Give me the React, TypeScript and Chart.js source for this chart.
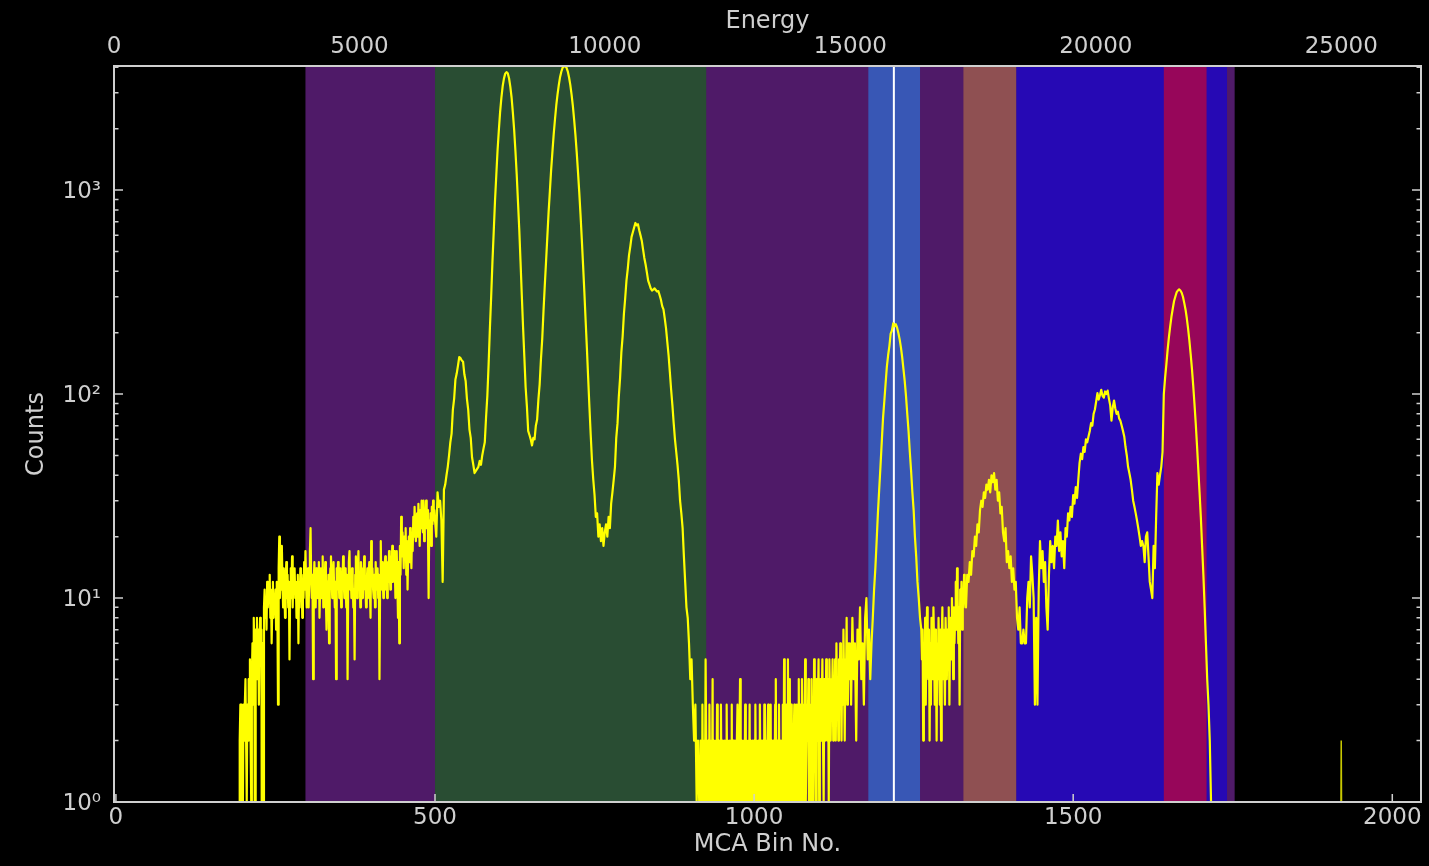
import React, { useEffect, useRef } from "react";
import { Chart, registerables } from "chart.js";

Chart.register(...registerables);

// ---------- axes ----------
const BIN_MIN = -3;
const BIN_MAX = 2045;
const ENERGY_PER_BIN = 13;
const ENERGY_MIN = 0;
const ENERGY_MAX = 2048 * ENERGY_PER_BIN;
const COUNT_MIN = 1;
const COUNT_MAX = 4060;
const ZERO_FLOOR = 0.1; // zero counts are drawn below the log axis (clipped), like matplotlib
const binTicks = [0, 500, 1000, 1500, 2000];
const energyTicks = [0, 5000, 10000, 15000, 20000, 25000];
const countDecades = [1, 10, 100, 1000];
const countDecadeLabels = ["10\u2070", "10\u00B9", "10\u00B2", "10\u00B3"];
const minorMultipliers = [2, 3, 4, 5, 6, 7, 8, 9];

// ---------- regions of interest (MCA bins) ----------
const regionStart = [297, 500, 1179, 1328, 1411, 1642];
const regionEnd = [1753, 925, 1260, 1411, 1741, 1709];
const regionColor = ["#4f1a68", "#294d33", "#3857b5", "#8f5052", "#2609b4", "#97065a"];
const markerBin = 1219;

// ---------- spectrum counts ----------
// tail: bins 190..299, every bin
const tailCounts = [
  1, 1, 0, 1, 2, 3, 1, 3, 2, 1,
  3, 2, 3, 4, 2, 1, 3, 2, 4, 3,
  5, 2, 1, 4, 6, 3, 8, 5, 0, 7,
  6, 8, 4, 7, 3, 6, 8, 5, 7, 0,
  6, 0, 9, 11, 8, 10, 7, 12, 9, 11,
  10, 13, 8, 11, 6, 9, 12, 8, 10, 9,
  11, 7, 12, 9, 3, 14, 20, 10, 13, 11,
  18, 12, 9, 14, 11, 8, 12, 15, 10, 13,
  9, 12, 5, 11, 14, 10, 16, 9, 13, 11,
  14, 10, 12, 8, 11, 13, 6, 12, 9, 14,
  11, 13, 8, 12, 10, 15, 11, 17, 12, 9,
];

// plateau: bins 300..499, every bin
const plateauCounts = [
  11, 14, 9, 13, 17, 22, 12, 10, 13, 4,
  12, 15, 11, 9, 14, 12, 10, 13, 15, 8,
  11, 14, 10, 12, 16, 9, 13, 11, 15, 10,
  7, 12, 9, 13, 6, 11, 14, 16, 12, 10,
  13, 15, 11, 9, 12, 4, 14, 11, 15, 13,
  10, 12, 14, 9, 13, 11, 16, 12, 10, 14,
  11, 9, 13, 4, 12, 15, 17, 11, 13, 10,
  14, 12, 9, 11, 5, 13, 16, 12, 10, 14,
  17, 11, 13, 9, 15, 12, 10, 14, 11, 16,
  13, 11, 9, 12, 14, 10, 13, 15, 11, 8,
  19, 12, 14, 11, 10, 13, 9, 15, 12, 11,
  14, 10, 13, 4, 12, 19, 11, 15, 13, 10,
  12, 14, 16, 11, 13, 10, 15, 12, 17, 14,
  11, 16, 13, 18, 12, 15, 17, 14, 10, 13,
  17, 12, 8, 15, 6, 18, 13, 25, 16, 21,
  18, 14, 20, 16, 22, 13, 19, 11, 17, 20,
  15, 22, 18, 14, 21, 17, 25, 20, 28, 22,
  19, 24, 26, 20, 29, 23, 18, 27, 22, 30,
  25, 21, 30, 19, 26, 24, 30, 22, 27, 21,
  10, 24, 20, 26, 18, 28, 23, 30, 24, 27,
];

// peaks: bins 500..912, every 2nd bin
const peaksCounts = [
  24, 20, 33, 28, 30, 24, 12, 34, 36, 40,
  44, 50, 58, 64, 84, 95, 118, 126, 138, 152,
  150, 146, 144, 125, 116, 95, 84, 67, 61, 49,
  45, 41, 42, 43, 44, 47, 45, 50, 54, 58,
  77, 98, 140, 210, 300, 445, 625, 885, 1180, 1565,
  1960, 2410, 2830, 3230, 3520, 3725, 3790, 3740, 3535, 3215,
  2845, 2400, 1980, 1560, 1200, 880, 645, 447, 305, 212,
  152, 108, 87, 66, 63, 60, 56, 61, 60, 70,
  75, 94, 112, 148, 186, 255, 340, 447, 590, 780,
  990, 1260, 1545, 1880, 2225, 2600, 2945, 3280, 3590, 3815,
  3985, 4040, 4040, 3990, 3825, 3575, 3280, 2940, 2585, 2215,
  1870, 1540, 1235, 980, 760, 575, 430, 318, 230, 168,
  120, 86, 63, 47, 38, 32, 25, 26, 20, 23,
  19, 22, 18, 21, 23, 20, 25, 22, 29, 33,
  38, 44, 61, 72, 97, 120, 160, 192, 247, 295,
  360, 410, 480, 528, 590, 622, 655, 690, 672, 680,
  636, 600, 565, 512, 465, 432, 395, 360, 345, 330,
  322, 325, 330, 324, 318, 320, 305, 290, 270, 260,
  235, 210, 180, 155, 128, 105, 88, 72, 60, 52,
  45, 38, 30, 26, 22, 16, 12, 9, 8, 6,
  4, 5, 3, 2, 3, 1, 2,
];

// low: bins 914..1149, every bin
const lowCounts = [
  1, 0, 2, 1, 0, 3, 1, 2, 0, 1,
  5, 2, 0, 1, 2, 0, 3, 1, 0, 2,
  1, 4, 0, 2, 1, 0, 2, 1, 3, 0,
  2, 1, 0, 2, 3, 1, 0, 2, 1, 0,
  2, 1, 0, 3, 1, 2, 0, 1, 2, 0,
  1, 3, 0, 2, 1, 0, 2, 1, 0, 2,
  3, 1, 0, 2, 4, 1, 0, 2, 1, 0,
  2, 1, 3, 0, 2, 1, 0, 2, 1, 3,
  0, 2, 1, 0, 2, 1, 2, 0, 3, 1,
  2, 0, 1, 2, 0, 3, 1, 2, 0, 1,
  2, 0, 3, 1, 2, 0, 1, 2, 3, 0,
  2, 1, 3, 0, 2, 1, 2, 0, 1, 3,
  4, 1, 2, 0, 2, 3, 1, 2, 0, 1,
  2, 3, 1, 5, 0, 2, 1, 3, 2, 5,
  1, 2, 4, 0, 3, 1, 2, 0, 2, 3,
  1, 2, 0, 3, 1, 2, 4, 1, 2, 3,
  0, 4, 2, 1, 3, 2, 5, 1, 2, 3,
  2, 4, 1, 3, 2, 0, 4, 2, 3, 1,
  5, 2, 3, 1, 4, 2, 3, 5, 1, 2,
  4, 2, 3, 5, 2, 1, 4, 3, 2, 5,
  3, 2, 4, 1, 5, 3, 2, 4, 3, 5,
  2, 4, 3, 5, 2, 6, 3, 4, 2, 5,
  3, 6, 4, 2, 5, 3, 7, 4, 2, 5,
  4, 8, 3, 5, 6, 4,
];

// peak 5: bins 1150..1262, every 2nd bin
const peak5Counts = [
  6, 3, 8, 4, 6, 2, 7, 5, 9, 4,
  6, 3, 8, 10, 5, 7, 4, 6, 8, 11,
  14, 19, 26, 34, 44, 58, 76, 92, 112, 136,
  155, 172, 198, 205, 222, 215, 220, 212, 200, 186,
  170, 152, 133, 116, 98, 80, 66, 52, 42, 33,
  27, 20, 16, 12, 10, 8, 7,
];

// mid: bins 1263..1329, every bin
const midCounts = [
  5, 7, 2, 6, 4, 8, 3, 6, 9, 5,
  4, 7, 2, 6, 3, 8, 5, 4, 9, 6,
  3, 7, 5, 2, 6, 4, 8, 5, 3, 7,
  2, 6, 9, 4, 7, 5, 3, 8, 6, 4,
  7, 5, 9, 3, 6, 8, 5, 10, 7, 4,
  9, 6, 8, 12, 7, 14, 10, 6, 9, 3,
  11, 8, 12, 7, 10, 9, 13,
];

// peak 6: bins 1330..1428, every 2nd bin
const peak6Counts = [
  11, 9, 13, 12, 15, 13, 17, 16, 20, 18,
  23, 21, 27, 30, 28, 33, 31, 36, 34, 38,
  33, 40, 37, 41, 34, 38, 30, 33, 26, 28,
  21, 19, 22, 15, 17, 14, 16, 12, 14, 11,
  12, 8, 7, 9, 6, 6, 7, 6, 6, 10,
];

// peak 7: bins 1430..1640, every 2nd bin
const peak7Counts = [
  12, 9, 16, 13, 10, 3, 8, 3, 11, 19,
  14, 17, 12, 15, 9, 7, 13, 19, 15, 18,
  14, 20, 18, 24, 17, 21, 16, 19, 14, 22,
  20, 26, 24, 28, 25, 32, 29, 35, 31, 38,
  46, 51, 48, 55, 52, 60, 58, 62, 66, 72,
  70, 80, 84, 92, 101, 94, 99, 105, 98, 96,
  103, 100, 104, 95, 88, 74, 86, 93, 85, 80,
  82, 76, 74, 70, 66, 62, 55, 50, 44, 41,
  38, 34, 30, 28, 26, 24, 22, 20, 18, 19,
  18, 15, 20, 21, 16, 12, 11, 10, 18, 14,
  25, 41, 36, 40, 44, 52,
];

// peak 8: bins 1642..1718, every 2nd bin
const peak8Counts = [
  100, 120, 140, 165, 190, 215, 240, 262, 285, 300,
  315, 322, 326, 322, 314, 300, 280, 260, 236, 210,
  184, 158, 134, 111, 90, 72, 56, 43, 33, 25,
  18, 13, 9, 6, 4, 3, 2, 1, 0,
];

// isolated counts near bin 1920, every 2nd bin from 1906
const spikeCounts = [0, 1, 0, 0, 0, 0, 0, 2, 0, 0, 0, 1, 0, 0, 0, 1, 0];
const spikeStart = 1906;
const spikeStep = 2;

const segmentStarts = [190, 300, 500, 914, 1150, 1263, 1330, 1430, 1642];
const segmentSteps = [1, 1, 2, 1, 2, 1, 2, 2, 2];
const segmentCounts = [tailCounts, plateauCounts, peaksCounts, lowCounts, peak5Counts, midCounts, peak6Counts, peak7Counts, peak8Counts];

// ---------- style ----------
const FONT = "'DejaVu Sans', sans-serif";
const TEXT_COLOR = "#cfcfcf";
const FRAME_COLOR = "#cfcfcf";
const LINE_COLOR = "#ffff00";

function toPoints(start: number, step: number, counts: number[]) {
  return counts.map((c, i) => ({ x: start + i * step, y: c > 0 ? c : ZERO_FLOOR }));
}

const regionsPlugin = {
  id: "regions",
  beforeDatasetsDraw(chart: any) {
    const { ctx, chartArea } = chart;
    const { left, right, top, bottom } = chartArea;
    const xs = chart.scales.x;
    ctx.save();
    ctx.beginPath();
    ctx.rect(left, top, right - left, bottom - top);
    ctx.clip();
    regionStart.forEach((s, i) => {
      const x0 = xs.getPixelForValue(s);
      const x1 = xs.getPixelForValue(regionEnd[i]);
      ctx.fillStyle = regionColor[i];
      ctx.fillRect(x0, top, x1 - x0, bottom - top);
    });
    const xm = xs.getPixelForValue(markerBin);
    ctx.strokeStyle = "#ffffff";
    ctx.lineWidth = 2;
    ctx.beginPath();
    ctx.moveTo(xm, top);
    ctx.lineTo(xm, bottom);
    ctx.stroke();
    ctx.restore();
  },
};

const framePlugin = {
  id: "frame",
  afterDraw(chart: any) {
    const { ctx, chartArea } = chart;
    const { left, right, top, bottom } = chartArea;
    const xs = chart.scales.x;
    const ys = chart.scales.y;
    ctx.save();
    ctx.strokeStyle = FRAME_COLOR;
    ctx.lineWidth = 1.5;
    ctx.beginPath();
    countDecades.forEach((d) => {
      const py = ys.getPixelForValue(d);
      ctx.moveTo(left, py);
      ctx.lineTo(left + 9, py);
      ctx.moveTo(right, py);
      ctx.lineTo(right - 9, py);
      minorMultipliers.forEach((m) => {
        const v = d * m;
        if (v > COUNT_MAX) return;
        const pm = ys.getPixelForValue(v);
        ctx.moveTo(left, pm);
        ctx.lineTo(left + 4.5, pm);
        ctx.moveTo(right, pm);
        ctx.lineTo(right - 4.5, pm);
      });
    });
    binTicks.forEach((b) => {
      const px = xs.getPixelForValue(b);
      ctx.moveTo(px, bottom);
      ctx.lineTo(px, bottom - 8);
    });
    ctx.stroke();
    ctx.lineWidth = 2;
    ctx.strokeRect(left, top, right - left, bottom - top);
    ctx.restore();
  },
};

export default function App() {
  const ref = useRef<HTMLCanvasElement>(null);

  useEffect(() => {
    const canvas = ref.current;
    if (!canvas) return;
    const mainPoints = segmentStarts.flatMap((s, k) => toPoints(s, segmentSteps[k], segmentCounts[k]));
    const spikePoints = toPoints(spikeStart, spikeStep, spikeCounts);

    const chart = new Chart(canvas, {
      type: "line",
      data: {
        datasets: [
          {
            data: mainPoints,
            borderColor: LINE_COLOR,
            borderWidth: 2.2,
            borderJoinStyle: "round",
            pointRadius: 0,
            tension: 0,
            xAxisID: "x",
            yAxisID: "y",
          },
          {
            data: spikePoints,
            borderColor: "#c8c800",
            borderWidth: 1.5,
            pointRadius: 0,
            tension: 0,
            xAxisID: "x",
            yAxisID: "y",
          },
        ],
      },
      options: {
        animation: false,
        responsive: false,
        maintainAspectRatio: false,
        devicePixelRatio: 1,
        layout: { padding: { left: 0, right: 8, top: 0, bottom: 0 } },
        plugins: { legend: { display: false }, tooltip: { enabled: false } },
        scales: {
          x: {
            type: "linear",
            position: "bottom",
            min: BIN_MIN,
            max: BIN_MAX,
            grid: { display: false, drawTicks: false, tickLength: 0 },
            border: { display: false },
            afterBuildTicks: (s: any) => {
              s.ticks = binTicks.map((v) => ({ value: v }));
            },
            afterFit: (s: any) => {
              s.height = 64;
            },
            ticks: {
              color: TEXT_COLOR,
              font: { family: FONT, size: 23 },
              padding: 2,
              autoSkip: false,
              maxRotation: 0,
              callback: (v: any) => String(v),
            },
            title: {
              display: true,
              text: "MCA Bin No.",
              color: TEXT_COLOR,
              font: { family: FONT, size: 24 },
              padding: { top: 0, bottom: 7 },
            },
          },
          x2: {
            type: "linear",
            position: "top",
            min: ENERGY_MIN,
            max: ENERGY_MAX,
            grid: { display: false, drawTicks: false, tickLength: 0 },
            border: { display: false },
            afterBuildTicks: (s: any) => {
              s.ticks = energyTicks.map((v) => ({ value: v }));
            },
            afterFit: (s: any) => {
              s.height = 66;
            },
            ticks: {
              color: TEXT_COLOR,
              font: { family: FONT, size: 23 },
              padding: 5,
              autoSkip: false,
              maxRotation: 0,
              callback: (v: any) => String(v),
            },
            title: {
              display: true,
              text: "Energy",
              color: TEXT_COLOR,
              font: { family: FONT, size: 24 },
              padding: { top: 7, bottom: 0 },
            },
          },
          y: {
            type: "logarithmic",
            position: "left",
            min: COUNT_MIN,
            max: COUNT_MAX,
            grid: { display: false, drawTicks: false, tickLength: 0 },
            border: { display: false },
            afterBuildTicks: (s: any) => {
              s.ticks = countDecades.map((v) => ({ value: v }));
            },
            afterFit: (s: any) => {
              s.width = 114;
            },
            ticks: {
              color: TEXT_COLOR,
              font: { family: FONT, size: 23 },
              padding: 13,
              labelOffset: 2,
              autoSkip: false,
              callback: (v: any) => {
                const i = countDecades.indexOf(Number(v));
                return i >= 0 ? countDecadeLabels[i] : "";
              },
            },
            title: {
              display: true,
              text: "Counts",
              color: TEXT_COLOR,
              font: { family: FONT, size: 24 },
              padding: { top: 22, bottom: 0 },
            },
          },
        },
      },
      plugins: [regionsPlugin, framePlugin],
    } as any);

    return () => chart.destroy();
  }, []);

  return (
    <div
      style={{
        position: "fixed",
        left: 0,
        top: 0,
        width: 1429,
        height: 866,
        background: "#000000",
      }}
    >
      <canvas ref={ref} width={1429} height={866} style={{ display: "block", width: 1429, height: 866 }} />
    </div>
  );
}
